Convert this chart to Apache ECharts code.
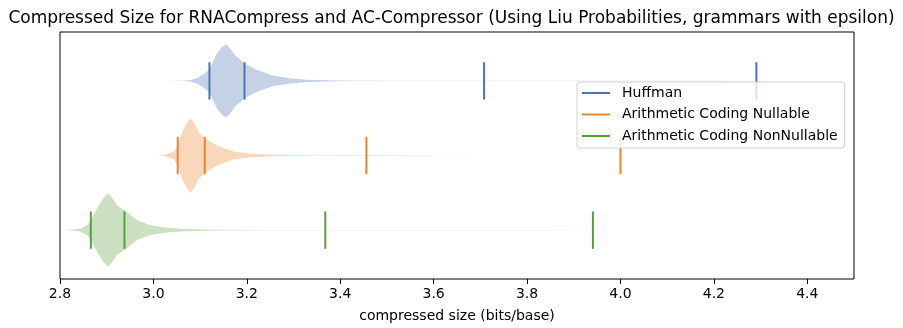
<!DOCTYPE html>
<html>
<head>
<meta charset="utf-8">
<script src="https://cdn.jsdelivr.net/npm/echarts@6/dist/echarts.min.js"></script>
<style>
  html, body { margin: 0; padding: 0; background: #fff; }
  #chart { width: 903px; height: 328px; }
</style>
</head>
<body>
<div id="chart"></div>
<script>
// Coding schemes, top to bottom
const schemeNames = ['Huffman', 'Arithmetic Coding Nullable', 'Arithmetic Coding NonNullable'];
const schemePositions = [3, 2, 1];

// Quantile marker values (bits/base)
const huffmanMarks = [3.120, 3.195, 3.708, 4.291];
const nullableMarks = [3.052, 3.110, 3.456, 4.000];
const nonNullableMarks = [2.866, 2.938, 3.368, 3.941];

// Kernel density outlines: [size, half-width]
const huffmanDensity = [
  [3.030, 0.000], [3.060, 0.003], [3.080, 0.013], [3.093, 0.035], [3.107, 0.090],
  [3.120, 0.155], [3.136, 0.370], [3.146, 0.450], [3.156, 0.490], [3.165, 0.430],
  [3.175, 0.345], [3.195, 0.235], [3.222, 0.146], [3.257, 0.070], [3.293, 0.035],
  [3.329, 0.016], [3.400, 0.006], [3.500, 0.003], [3.600, 0.002], [3.800, 0.0015],
  [4.000, 0.001], [4.200, 0.0007], [4.400, 0.000]
];
const nullableDensity = [
  [2.997, 0.000], [3.015, 0.004], [3.029, 0.016], [3.043, 0.050], [3.052, 0.130],
  [3.061, 0.310], [3.072, 0.440], [3.080, 0.500], [3.088, 0.430], [3.097, 0.310],
  [3.110, 0.235], [3.136, 0.133], [3.172, 0.053], [3.207, 0.025], [3.278, 0.007],
  [3.350, 0.004], [3.500, 0.002], [3.700, 0.0015], [3.900, 0.001], [4.050, 0.000]
];
const nonNullableDensity = [
  [2.804, 0.000], [2.825, 0.004], [2.843, 0.020], [2.858, 0.066], [2.866, 0.130],
  [2.879, 0.290], [2.893, 0.430], [2.904, 0.490], [2.913, 0.420], [2.922, 0.330],
  [2.938, 0.266], [2.965, 0.133], [2.993, 0.066], [3.029, 0.031], [3.065, 0.016],
  [3.136, 0.006], [3.250, 0.003], [3.400, 0.002], [3.600, 0.0015], [3.850, 0.001],
  [4.000, 0.000]
];

// X axis ticks
const xTicks = [2.8, 3.0, 3.2, 3.4, 3.6, 3.8, 4.0, 4.2, 4.4];

const schemeMarks = [huffmanMarks, nullableMarks, nonNullableMarks];
const schemeDensity = [huffmanDensity, nullableDensity, nonNullableDensity];
const schemeColors = ['#4c72b0', '#e8862c', '#5a9f3c'];

const FONT = 'DejaVu Sans';

function violinSeries(k) {
  const profile = schemeDensity[k];
  const pos = schemePositions[k];
  return {
    type: 'custom',
    name: schemeNames[k] + ' density',
    z: 2,
    silent: true,
    data: [[profile[0][0], pos]],
    renderItem: function (params, api) {
      const upper = profile.map(p => api.coord([p[0], pos + p[1]]));
      const lower = profile.slice().reverse().map(p => api.coord([p[0], pos - p[1]]));
      return {
        type: 'polygon',
        shape: { points: upper.concat(lower) },
        style: { fill: schemeColors[k], opacity: 0.32, stroke: null }
      };
    }
  };
}

function markSeries(k) {
  const pos = schemePositions[k];
  return {
    type: 'custom',
    name: schemeNames[k],
    z: 3,
    color: schemeColors[k],
    itemStyle: { color: schemeColors[k] },
    data: schemeMarks[k].map(v => [v, pos]),
    renderItem: function (params, api) {
      const v = api.value(0);
      const y = api.value(1);
      const a = api.coord([v, y - 0.25]);
      const b = api.coord([v, y + 0.25]);
      return {
        type: 'line',
        shape: { x1: a[0], y1: a[1], x2: b[0], y2: b[1] },
        style: { stroke: schemeColors[k], lineWidth: 2 }
      };
    }
  };
}

const series = [];
for (let k = 0; k < schemeNames.length; k++) {
  series.push(violinSeries(k));
  series.push(markSeries(k));
}

const chart = echarts.init(document.getElementById('chart'), null, { renderer: 'canvas' });
chart.setOption({
  animation: false,
  backgroundColor: '#fff',
  title: {
    text: 'Compressed Size for RNACompress and AC-Compressor (Using Liu Probabilities, grammars with epsilon)',
    left: 'center',
    top: 5,
    textStyle: { fontFamily: FONT, fontSize: 17, fontWeight: 'normal', color: '#000' }
  },
  grid: {
    left: 60, right: 49, top: 32, bottom: 47,
    show: true, borderColor: '#000', borderWidth: 1, backgroundColor: 'transparent'
  },
  legend: {
    orient: 'vertical',
    left: 577, top: 82,
    data: schemeNames.map(n => ({ name: n, icon: 'rect' })),
    itemWidth: 28, itemHeight: 2, itemGap: 5.5,
    padding: [3, 7, 4, 5],
    backgroundColor: 'rgba(255,255,255,0.8)',
    borderColor: '#d0d0d0', borderWidth: 1, borderRadius: 3,
    selectedMode: false,
    textStyle: { fontFamily: FONT, fontSize: 14, color: '#000', lineHeight: 16, padding: [0, 0, 0, 7] }
  },
  xAxis: {
    type: 'value',
    min: 2.8, max: 4.5, interval: 0.2,
    name: 'compressed size (bits/base)',
    nameLocation: 'middle', nameGap: 30,
    nameTextStyle: { fontFamily: FONT, fontSize: 14, color: '#000' },
    axisLine: { show: false },
    axisTick: { show: true, length: 5, lineStyle: { color: '#000', width: 1 }, customValues: xTicks },
    axisLabel: {
      fontFamily: FONT, fontSize: 14, color: '#000', margin: 8,
      customValues: xTicks,
      formatter: v => v.toFixed(1)
    },
    splitLine: { show: false }
  },
  yAxis: {
    type: 'value',
    min: 0.345, max: 3.655,
    show: false,
    splitLine: { show: false }
  },
  series: series
});
</script>
</body>
</html>
